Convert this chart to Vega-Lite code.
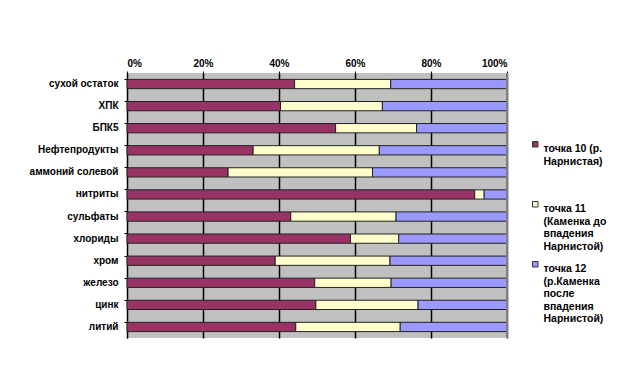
{
  "$schema": "https://vega.github.io/schema/vega-lite/v6.json",
  "width": 380,
  "height": 265,
  "autosize": {"type": "none"},
  "padding": {"left": 127, "top": 73, "right": 131, "bottom": 31},
  "background": "white",
  "config": {
    "view": {"fill": "#C0C0C0", "stroke": null},
    "font": "Liberation Sans"
  },
  "data": {
    "values": [
      {"cat": "сухой остаток", "s": "p10", "o": 1, "v": 44.1},
      {"cat": "сухой остаток", "s": "p11", "o": 2, "v": 25.3},
      {"cat": "сухой остаток", "s": "p12", "o": 3, "v": 30.6},
      {"cat": "ХПК", "s": "p10", "o": 1, "v": 40.4},
      {"cat": "ХПК", "s": "p11", "o": 2, "v": 26.8},
      {"cat": "ХПК", "s": "p12", "o": 3, "v": 32.8},
      {"cat": "БПК5", "s": "p10", "o": 1, "v": 54.9},
      {"cat": "БПК5", "s": "p11", "o": 2, "v": 21.3},
      {"cat": "БПК5", "s": "p12", "o": 3, "v": 23.8},
      {"cat": "Нефтепродукты", "s": "p10", "o": 1, "v": 33.2},
      {"cat": "Нефтепродукты", "s": "p11", "o": 2, "v": 33.2},
      {"cat": "Нефтепродукты", "s": "p12", "o": 3, "v": 33.6},
      {"cat": "аммоний солевой", "s": "p10", "o": 1, "v": 26.6},
      {"cat": "аммоний солевой", "s": "p11", "o": 2, "v": 38.0},
      {"cat": "аммоний солевой", "s": "p12", "o": 3, "v": 35.4},
      {"cat": "нитриты", "s": "p10", "o": 1, "v": 91.5},
      {"cat": "нитриты", "s": "p11", "o": 2, "v": 2.5},
      {"cat": "нитриты", "s": "p12", "o": 3, "v": 6.0},
      {"cat": "сульфаты", "s": "p10", "o": 1, "v": 43.1},
      {"cat": "сульфаты", "s": "p11", "o": 2, "v": 27.7},
      {"cat": "сульфаты", "s": "p12", "o": 3, "v": 29.2},
      {"cat": "хлориды", "s": "p10", "o": 1, "v": 58.8},
      {"cat": "хлориды", "s": "p11", "o": 2, "v": 12.7},
      {"cat": "хлориды", "s": "p12", "o": 3, "v": 28.5},
      {"cat": "хром", "s": "p10", "o": 1, "v": 39.0},
      {"cat": "хром", "s": "p11", "o": 2, "v": 30.2},
      {"cat": "хром", "s": "p12", "o": 3, "v": 30.8},
      {"cat": "железо", "s": "p10", "o": 1, "v": 49.4},
      {"cat": "железо", "s": "p11", "o": 2, "v": 20.1},
      {"cat": "железо", "s": "p12", "o": 3, "v": 30.5},
      {"cat": "цинк", "s": "p10", "o": 1, "v": 49.7},
      {"cat": "цинк", "s": "p11", "o": 2, "v": 26.9},
      {"cat": "цинк", "s": "p12", "o": 3, "v": 23.4},
      {"cat": "литий", "s": "p10", "o": 1, "v": 44.4},
      {"cat": "литий", "s": "p11", "o": 2, "v": 27.5},
      {"cat": "литий", "s": "p12", "o": 3, "v": 28.1}
    ]
  },
  "layer": [
    {
      "mark": {"type": "bar", "stroke": "#222222", "strokeWidth": 1},
      "encoding": {
        "y": {
          "field": "cat",
          "type": "nominal",
          "sort": null,
          "scale": {"paddingInner": 0.58, "paddingOuter": 0.29},
          "axis": {
            "title": null,
            "labelFont": "Liberation Sans",
            "labelFontWeight": "bold",
            "labelFontSize": 10,
            "labelColor": "black",
            "labelPadding": 6,
            "tickSize": 3,
            "tickColor": "black",
            "bandPosition": 0,
            "domainColor": "black",
            "domainWidth": 1
          }
        },
        "x": {
          "field": "v",
          "type": "quantitative",
          "stack": "normalize",
          "scale": {"domain": [0, 1]},
          "axis": {
            "orient": "top",
            "title": null,
            "values": [0, 0.2, 0.4, 0.6, 0.8, 1],
            "format": ".0%",
            "labelFont": "Liberation Sans",
            "labelFontWeight": "bold",
            "labelFontSize": 10,
            "labelColor": "black",
            "labelPadding": 3,
            "tickSize": 2,
            "tickColor": "black",
            "domain": false,
            "grid": true,
            "gridColor": "black",
            "gridWidth": 1.5,
            "gridOpacity": 1
          }
        },
        "order": {"field": "o", "type": "quantitative"},
        "color": {
          "field": "s",
          "type": "nominal",
          "scale": {"domain": ["p10", "p11", "p12"], "range": ["#993366", "#FFFFCC", "#9999FF"]},
          "legend": {
            "title": null,
            "orient": "none",
            "legendX": 403,
            "legendY": 66,
            "symbolType": "square",
            "symbolSize": 30,
            "symbolStrokeColor": "#333333",
            "symbolStrokeWidth": 1,
            "symbolOpacity": 1,
            "labelFont": "Liberation Sans",
            "labelFontWeight": "bold",
            "labelFontSize": 10.5,
            "labelLineHeight": 13,
            "labelColor": "black",
            "labelLimit": 200,
            "labelBaseline": "top",
            "labelOffset": 3,
            "rowPadding": 6,
            "labelExpr": "datum.value == 'p10' ? ['точка 10 (р.', 'Нарнистая)', ' ', ' '] : datum.value == 'p11' ? ['точка 11', '(Каменка до', 'впадения', 'Нарнистой)'] : ['точка 12', '(р.Каменка', 'после', 'впадения', 'Нарнистой)']"
          }
        }
      }
    },
    {
      "mark": {"type": "rule", "color": "#808080", "strokeWidth": 2},
      "data": {"values": [{"a": 1}]},
      "encoding": {
        "x": {"datum": 1, "type": "quantitative"}
      }
    }
  ]
}
